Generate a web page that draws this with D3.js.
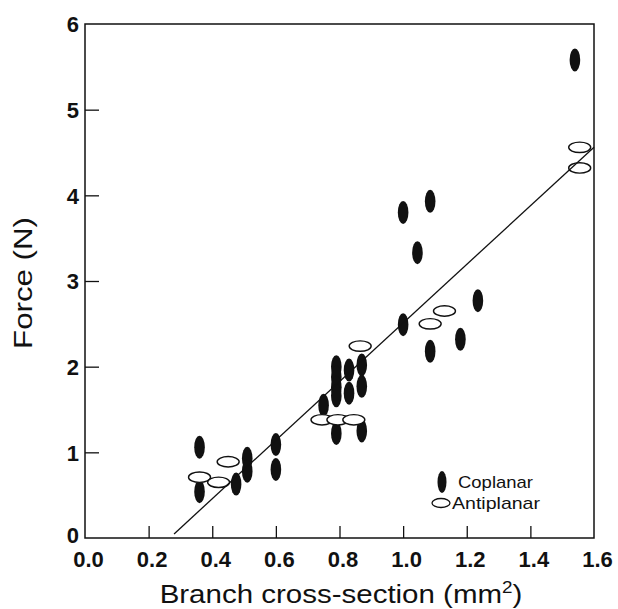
<!DOCTYPE html>
<html>
<head>
<meta charset="utf-8">
<script src="https://cdnjs.cloudflare.com/ajax/libs/d3/7.8.5/d3.min.js"></script>
<style>
  body { margin: 0; background: #fff; }
  svg { display: block; }
  text { font-family: "Liberation Sans", Arial, sans-serif; fill: #111; }
</style>
</head>
<body>
<svg width="618" height="609"></svg>
<script>
// Data
var coplanarX = [0.36, 0.36, 0.475, 0.51, 0.51, 0.60, 0.60, 0.75, 0.79, 0.79, 0.79, 0.79, 0.79, 0.83, 0.83, 0.87, 0.87, 0.87, 1.00, 1.00, 1.045, 1.085, 1.085, 1.18, 1.235, 1.54];
var coplanarY = [1.06, 0.54, 0.63, 0.93, 0.78, 1.09, 0.80, 1.55, 2.00, 1.88, 1.76, 1.66, 1.22, 1.96, 1.69, 2.02, 1.77, 1.25, 3.80, 2.49, 3.33, 3.93, 2.18, 2.32, 2.77, 5.58];
var antiplanarX = [0.36, 0.42, 0.45, 0.745, 0.795, 0.845, 0.865, 1.085, 1.13, 1.555, 1.555];
var antiplanarY = [0.71, 0.65, 0.89, 1.38, 1.38, 1.38, 2.24, 2.50, 2.65, 4.56, 4.32];
// regression line: y = slope * x + intercept
var fitSlope = 3.42;
var fitIntercept = -0.91;
var fitRange = [0.28, 1.6];

var xTicks = [0.0, 0.2, 0.4, 0.6, 0.8, 1.0, 1.2, 1.4, 1.6];
var yTicks = [0, 1, 2, 3, 4, 5, 6];

var svg = d3.select("svg");
// plot box (window.top is reserved, so no bare "top")
var boxLeft = 85, boxRight = 594, boxTop = 24, boxBottom = 538;

var x = d3.scaleLinear().domain([0, 1.6]).range([boxLeft, boxRight]);
var y = d3.scaleLinear().domain([0, 6]).range([boxBottom, boxTop]);

// frame
svg.append("rect")
    .attr("x", boxLeft).attr("y", boxTop)
    .attr("width", boxRight - boxLeft).attr("height", boxBottom - boxTop)
    .attr("fill", "none").attr("stroke", "#111").attr("stroke-width", 1.5);

// axes with inward ticks
var xAxis = svg.append("g")
    .attr("transform", "translate(0," + boxBottom + ")")
    .call(d3.axisBottom(x).tickValues(xTicks).tickSize(-12).tickFormat(d3.format(".1f")));
var yAxis = svg.append("g")
    .attr("transform", "translate(" + boxLeft + ",0)")
    .call(d3.axisLeft(y).tickValues(yTicks).tickSize(-14).tickFormat(d3.format("d")));

[xAxis, yAxis].forEach(function (g) {
    g.select(".domain").remove();
    g.selectAll(".tick line").attr("stroke", "#111").attr("stroke-width", 1.3);
    g.selectAll(".tick text")
        .attr("font-family", "Liberation Sans, Arial, sans-serif")
        .attr("font-size", 22).attr("font-weight", "bold").attr("fill", "#111");
});
xAxis.selectAll(".tick text").attr("y", 13).attr("x", 3).attr("dy", "0.71em");
yAxis.selectAll(".tick text").attr("x", -6).attr("dy", "0.35em");
// the corner "0" sits a touch higher so it clears "0.0"
yAxis.selectAll(".tick text").filter(function (d) { return d === 0; }).attr("dy", "0.2em");
// no tick marks where they coincide with the frame
xAxis.selectAll(".tick line").filter(function (d) { return d === 0 || d === 1.6; }).remove();
yAxis.selectAll(".tick line").filter(function (d) { return d === 0 || d === 6; }).remove();

// markers: coplanar below, antiplanar on top
var coplanar = coplanarX.map(function (v, i) { return { x: v, y: coplanarY[i] }; });
var antiplanar = antiplanarX.map(function (v, i) { return { x: v, y: antiplanarY[i] }; });

svg.selectAll(".cop")
    .data(coplanar)
    .enter()
    .append("ellipse")
    .attr("class", "cop")
    .attr("cx", function (d) { return x(d.x); })
    .attr("cy", function (d) { return y(d.y); })
    .attr("rx", 5.3).attr("ry", 11.5)
    .attr("fill", "#111");

svg.selectAll(".anti")
    .data(antiplanar)
    .enter()
    .append("ellipse")
    .attr("class", "anti")
    .attr("cx", function (d) { return x(d.x); })
    .attr("cy", function (d) { return y(d.y); })
    .attr("rx", 11).attr("ry", 5.2)
    .attr("fill", "#fff").attr("stroke", "#111").attr("stroke-width", 1.4);

// fit line
svg.append("line")
    .attr("x1", x(fitRange[0])).attr("y1", y(fitSlope * fitRange[0] + fitIntercept))
    .attr("x2", x(fitRange[1])).attr("y2", y(fitSlope * fitRange[1] + fitIntercept))
    .attr("stroke", "#111").attr("stroke-width", 1.3);

// legend
svg.append("ellipse").attr("cx", 442).attr("cy", 482).attr("rx", 4.5).attr("ry", 11).attr("fill", "#111");
svg.append("text").attr("x", 458).attr("y", 482).attr("dy", "0.35em").attr("font-size", 17)
    .attr("textLength", 75).attr("lengthAdjust", "spacingAndGlyphs").text("Coplanar");
svg.append("ellipse").attr("cx", 441).attr("cy", 503).attr("rx", 9).attr("ry", 4.5)
    .attr("fill", "#fff").attr("stroke", "#111").attr("stroke-width", 1.3);
svg.append("text").attr("x", 452).attr("y", 503).attr("dy", "0.35em").attr("font-size", 17)
    .attr("textLength", 88).attr("lengthAdjust", "spacingAndGlyphs").text("Antiplanar");

// axis titles (the scan's lettering is wider than Liberation Sans, so stretch it)
var xt = svg.append("text")
    .attr("transform", "translate(341,603) scale(1.18,1)")
    .attr("text-anchor", "middle").attr("font-size", 25);
xt.append("tspan").text("Branch cross-section (mm");
xt.append("tspan").attr("font-size", 16).attr("dy", -10).text("2");
xt.append("tspan").attr("dy", 10).text(")");

svg.append("text")
    .attr("transform", "translate(32,283) rotate(-90) scale(1.25,1)")
    .attr("text-anchor", "middle").attr("font-size", 25)
    .text("Force (N)");
</script>
</body>
</html>
